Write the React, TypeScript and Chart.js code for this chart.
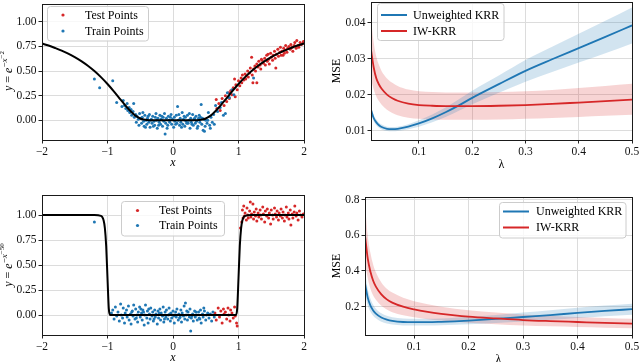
import React, { useEffect, useRef } from 'react';
import { Chart, registerables } from 'chart.js';

Chart.register(...registerables);

const FONT = "'Liberation Serif', 'Times New Roman', serif";
const BLUE = '#1f77b4';
const RED = '#d62728';
const BLUE_BAND = 'rgba(31,119,180,0.2)';
const RED_BAND = 'rgba(214,39,40,0.2)';

// ---------- tick labels ----------
const xTicksScatter = [-2, -1, 0, 1, 2];
const yTicksScatter = [0, 0.25, 0.5, 0.75, 1];
const lambdaTicks = [0.1, 0.2, 0.3, 0.4, 0.5];
const mseTicksTop = [0.01, 0.02, 0.03, 0.04];
const mseTicksBottom = [0.2, 0.4, 0.6, 0.8];

// ---------- top-left: y = exp(-x^-2) ----------
const curveTopX = [-2, -1.9, -1.8, -1.7, -1.6, -1.5, -1.4, -1.3, -1.2, -1.1, -1.0, -0.9, -0.8, -0.75, -0.7, -0.65, -0.6, -0.55, -0.5, -0.45, -0.4, -0.35, -0.3, -0.2, -0.1, 0, 0.1, 0.2, 0.3, 0.35, 0.4, 0.45, 0.5, 0.55, 0.6, 0.65, 0.7, 0.75, 0.8, 0.9, 1.0, 1.1, 1.2, 1.3, 1.4, 1.5, 1.6, 1.7, 1.8, 1.9, 2];
const curveTopY = [0.7788, 0.7583, 0.7339, 0.7075, 0.6767, 0.6412, 0.6004, 0.5534, 0.4994, 0.4376, 0.3679, 0.291, 0.2096, 0.169, 0.1299, 0.0938, 0.0622, 0.0367, 0.0183, 0.0072, 0.0019, 0.0003, 0.0, 0, 0, 0, 0, 0, 0.0, 0.0003, 0.0019, 0.0072, 0.0183, 0.0367, 0.0622, 0.0938, 0.1299, 0.169, 0.2096, 0.291, 0.3679, 0.4376, 0.4994, 0.5534, 0.6004, 0.6412, 0.6767, 0.7075, 0.7339, 0.7583, 0.7788];

const testTop: [number, number][] = [
  [0.66, 0.21], [0.67, 0.12], [0.7, 0.17], [0.72, 0.1], [0.75, 0.22], [0.78, 0.15], [0.8, 0.25], [0.82, 0.19], [0.85, 0.28], [0.86, 0.22],
  [0.88, 0.3], [0.9, 0.26], [0.92, 0.33], [0.94, 0.42], [0.95, 0.24], [0.96, 0.36], [0.98, 0.31], [1.0, 0.4], [1.02, 0.35], [1.04, 0.43],
  [1.05, 0.38], [1.06, 0.46], [1.08, 0.41], [1.1, 0.47], [1.11, 0.42], [1.12, 0.45], [1.14, 0.5], [1.15, 0.44], [1.17, 0.48], [1.18, 0.53],
  [1.2, 0.64], [1.21, 0.46], [1.22, 0.38], [1.23, 0.52], [1.25, 0.55], [1.26, 0.5], [1.28, 0.57], [1.3, 0.54], [1.31, 0.6], [1.33, 0.56],
  [1.34, 0.52], [1.36, 0.61], [1.38, 0.58], [1.4, 0.63], [1.41, 0.56], [1.43, 0.66], [1.44, 0.6], [1.46, 0.62], [1.47, 0.57], [1.49, 0.68],
  [1.5, 0.64], [1.52, 0.61], [1.53, 0.66], [1.55, 0.7], [1.56, 0.63], [1.58, 0.67], [1.6, 0.72], [1.61, 0.65], [1.63, 0.69], [1.64, 0.74],
  [1.66, 0.7], [1.68, 0.66], [1.69, 0.73], [1.71, 0.71], [1.72, 0.76], [1.74, 0.69], [1.75, 0.73], [1.77, 0.75], [1.79, 0.72], [1.8, 0.77],
  [1.82, 0.74], [1.83, 0.7], [1.85, 0.76], [1.86, 0.79], [1.88, 0.73], [1.89, 0.81], [1.91, 0.76], [1.92, 0.74], [1.94, 0.79], [1.96, 0.77],
  [1.98, 0.78], [1.99, 0.8], [1.28, 0.38], [1.57, 0.53], [1.35, 0.62], [1.45, 0.67], [1.65, 0.66], [1.7, 0.68]
];

const trainTop: [number, number][] = [
  [-1.2, 0.42], [-1.12, 0.33], [-0.92, 0.4], [-0.86, 0.18], [-0.78, 0.14], [-0.76, 0.2], [-0.74, 0.15], [-0.72, 0.12], [-0.7, 0.17], [-0.69, 0.1],
  [-0.67, 0.13], [-0.66, 0.08], [-0.64, 0.11], [-0.63, 0.05], [-0.61, 0.09], [-0.6, 0.17], [-0.59, 0.03], [-0.57, 0.06], [-0.56, -0.02], [-0.55, 0.04],
  [-0.53, 0.01], [-0.52, -0.05], [-0.51, 0.07], [-0.49, 0.02], [-0.48, -0.03], [-0.47, 0.03], [-0.45, -0.01], [-0.44, -0.06], [-0.43, 0.05], [-0.41, 0.0],
  [-0.4, -0.04], [-0.39, 0.02], [-0.37, -0.02], [-0.36, 0.06], [-0.35, -0.07], [-0.33, 0.01], [-0.32, -0.03], [-0.31, 0.04], [-0.29, -0.01], [-0.28, -0.05],
  [-0.27, 0.03], [-0.25, 0.0], [-0.24, -0.08], [-0.23, 0.02], [-0.21, -0.02], [-0.2, 0.05], [-0.19, -0.04], [-0.18, 0.01], [-0.16, -0.06], [-0.15, 0.03],
  [-0.14, -0.01], [-0.13, 0.07], [-0.12, -0.14], [-0.11, -0.03], [-0.1, 0.02], [-0.08, -0.05], [-0.07, 0.04], [-0.06, 0.0], [-0.05, -0.02], [-0.03, 0.06],
  [-0.02, -0.04], [-0.01, 0.01], [0.01, -0.07], [0.02, 0.03], [0.03, -0.01], [0.05, 0.05], [0.06, -0.03], [0.07, 0.14], [0.08, 0.0], [0.1, -0.05],
  [0.11, 0.02], [0.12, -0.02], [0.14, 0.08], [0.15, -0.04], [0.16, 0.01], [0.18, -0.06], [0.19, 0.03], [0.2, -0.01], [0.22, 0.05], [0.23, -0.03],
  [0.24, 0.0], [0.26, -0.08], [0.27, 0.02], [0.28, -0.02], [0.3, 0.06], [0.31, -0.05], [0.32, 0.01], [0.34, -0.03], [0.35, 0.04], [0.36, -0.01],
  [0.38, -0.06], [0.39, 0.02], [0.41, -0.02], [0.42, 0.03], [0.43, 0.16], [0.44, -0.04], [0.46, -0.1], [0.47, 0.01], [0.48, -0.11], [0.5, 0.0],
  [0.52, -0.03], [0.54, 0.08], [0.56, -0.05], [0.58, 0.03], [0.6, -0.02], [0.62, 0.06], [0.63, -0.04], [0.65, 0.15], [0.68, 0.09], [0.72, 0.13],
  [0.74, 0.18], [0.77, 0.05], [0.8, 0.07], [0.83, 0.28], [0.86, 0.23], [0.9, 0.31], [0.93, 0.26], [1.23, 0.43],
  [-0.46, 0.08], [-0.42, -0.07], [-0.38, 0.04], [-0.34, 0.0], [-0.3, -0.06], [-0.26, 0.07], [-0.22, -0.05], [-0.17, 0.04], [-0.09, -0.08], [-0.04, 0.03],
  [0.04, -0.04], [0.09, 0.06], [0.13, -0.07], [0.17, 0.04], [0.21, -0.03], [0.25, 0.07], [0.29, -0.04], [0.33, 0.02], [0.37, -0.08], [0.4, 0.05],
  [0.45, 0.02], [0.49, -0.06], [0.53, 0.0], [0.57, -0.08]
];

// ---------- bottom-left: y = exp(-x^-50) ----------
const curveBottomX = [-2, -1.5, -1.2, -1.1, -1.08, -1.06, -1.04, -1.02, -1.0, -0.98, -0.96, -0.94, -0.9, 0, 0.9, 0.94, 0.96, 0.98, 1.0, 1.02, 1.04, 1.06, 1.08, 1.1, 1.2, 1.5, 2];
const curveBottomY = [1, 1, 0.9999, 0.9915, 0.979, 0.947, 0.869, 0.69, 0.368, 0.064, 0.0005, 0, 0, 0, 0, 0, 0.0005, 0.064, 0.368, 0.69, 0.869, 0.947, 0.979, 0.9915, 0.9999, 1, 1];

const trainBottom: [number, number][] = [
  [-1.2, 0.93], [-0.94, 0.02], [-0.92, 0.05], [-0.9, -0.04], [-0.88, 0.08], [-0.86, -0.01], [-0.84, 0.03], [-0.82, -0.06], [-0.8, 0.11], [-0.79, 0.0],
  [-0.77, -0.03], [-0.76, 0.07], [-0.74, -0.08], [-0.73, 0.02], [-0.71, 0.05], [-0.7, -0.02], [-0.68, 0.09], [-0.67, -0.05], [-0.65, 0.01], [-0.64, -0.09],
  [-0.62, 0.04], [-0.61, -0.01], [-0.6, 0.1], [-0.58, -0.04], [-0.57, 0.06], [-0.55, 0.0], [-0.54, -0.07], [-0.53, 0.03], [-0.51, 0.08], [-0.5, -0.02],
  [-0.48, 0.02], [-0.47, -0.05], [-0.46, 0.05], [-0.44, -0.1], [-0.43, 0.0], [-0.42, 0.1], [-0.4, -0.03], [-0.39, 0.04], [-0.38, -0.08], [-0.36, 0.01],
  [-0.35, -0.04], [-0.34, 0.07], [-0.32, -0.01], [-0.31, 0.03], [-0.3, -0.06], [-0.28, 0.05], [-0.27, -0.02], [-0.26, 0.01], [-0.24, -0.09], [-0.23, 0.04],
  [-0.22, -0.03], [-0.2, 0.06], [-0.19, -0.05], [-0.18, 0.02], [-0.16, -0.01], [-0.15, 0.08], [-0.14, -0.07], [-0.12, 0.03], [-0.11, -0.02], [-0.1, 0.05],
  [-0.08, -0.04], [-0.07, 0.0], [-0.06, 0.07], [-0.04, -0.06], [-0.03, 0.02], [-0.02, -0.03], [0.0, 0.04], [0.01, -0.01], [0.02, -0.08], [0.04, 0.03],
  [0.05, -0.02], [0.06, 0.06], [0.08, -0.05], [0.09, 0.01], [0.1, -0.03], [0.12, 0.05], [0.13, -0.07], [0.14, 0.02], [0.16, -0.01], [0.17, 0.09],
  [0.18, -0.04], [0.19, 0.12], [0.2, 0.0], [0.22, -0.05], [0.23, 0.03], [0.25, -0.02], [0.26, 0.06], [0.27, -0.16], [0.28, -0.03], [0.3, 0.01],
  [0.31, -0.06], [0.33, 0.04], [0.34, -0.02], [0.36, 0.0], [0.37, -0.05], [0.39, 0.03], [0.4, -0.03], [0.42, 0.05], [0.43, -0.08], [0.45, 0.01],
  [0.46, -0.02], [0.48, 0.04], [0.5, -0.05], [0.51, 0.0], [0.53, 0.02], [0.55, -0.03], [0.57, 0.01], [0.59, -0.06], [0.61, 0.03], [0.63, -0.02],
  [-0.45, 0.03], [-0.37, 0.06], [-0.29, -0.04], [-0.21, 0.02], [-0.13, -0.04], [-0.05, 0.01], [0.03, 0.0], [0.11, -0.02], [0.21, 0.04], [0.29, -0.01],
  [0.35, 0.03], [0.41, -0.04], [0.47, 0.07], [-0.63, 0.03], [-0.56, -0.03], [-0.49, 0.06]
];

const testBottom: [number, number][] = [
  [0.64, 0.02], [0.66, -0.05], [0.69, 0.07], [0.71, -0.02], [0.73, 0.04], [0.75, -0.08], [0.77, 0.06], [0.78, 0.01], [0.8, 0.03], [0.82, -0.04],
  [0.84, 0.07], [0.85, 0.0], [0.87, -0.06], [0.88, 0.05], [0.9, 0.02], [0.92, -0.03], [0.94, 0.08], [0.95, -0.01], [0.97, -0.08], [0.98, -0.11],
  [1.03, 0.87], [1.05, 0.93], [1.06, 1.05], [1.07, 0.97], [1.08, 1.09], [1.09, 0.99], [1.1, 1.02], [1.12, 0.95], [1.13, 1.07], [1.14, 1.0],
  [1.15, 0.97], [1.17, 1.04], [1.18, 1.13], [1.19, 0.98], [1.2, 1.01], [1.22, 1.11], [1.23, 0.96], [1.24, 1.03], [1.26, 0.99], [1.27, 1.06],
  [1.28, 0.94], [1.3, 1.02], [1.31, 0.98], [1.33, 1.05], [1.34, 1.0], [1.35, 0.96], [1.37, 1.08], [1.38, 1.01], [1.4, 0.93], [1.41, 1.04],
  [1.43, 0.99], [1.44, 1.06], [1.46, 0.97], [1.47, 1.02], [1.49, 0.91], [1.5, 1.05], [1.52, 1.0], [1.53, 0.96], [1.55, 1.07], [1.56, 1.01],
  [1.58, 0.98], [1.59, 1.04], [1.61, 0.95], [1.62, 1.02], [1.64, 0.99], [1.65, 1.06], [1.67, 0.97], [1.68, 1.03], [1.7, 0.94], [1.71, 1.0],
  [1.73, 1.08], [1.74, 0.98], [1.76, 1.02], [1.77, 0.96], [1.79, 1.05], [1.8, 0.9], [1.82, 1.01], [1.83, 0.97], [1.85, 1.03], [1.86, 1.09],
  [1.88, 0.99], [1.89, 1.02], [1.91, 0.95], [1.93, 1.04], [1.95, 1.0], [1.97, 0.98], [1.99, 1.01]
];

// ---------- MSE vs lambda ----------
const lambdas = [0.01, 0.015, 0.02, 0.025, 0.03, 0.04, 0.05, 0.06, 0.08, 0.1, 0.125, 0.15, 0.175, 0.2, 0.25, 0.3, 0.35, 0.4, 0.45, 0.5];

const topUnweighted = [0.0158, 0.0135, 0.0123, 0.0115, 0.011, 0.0105, 0.0104, 0.0105, 0.0111, 0.012, 0.0134, 0.0151, 0.017, 0.0191, 0.0229, 0.0266, 0.0298, 0.0329, 0.036, 0.0392];
const topUnweightedLow = [0.0148, 0.0126, 0.0115, 0.0108, 0.0103, 0.0099, 0.0098, 0.0099, 0.0104, 0.0111, 0.0123, 0.0138, 0.0155, 0.0173, 0.0205, 0.0236, 0.0263, 0.0289, 0.0315, 0.0342];
const topUnweightedHigh = [0.0168, 0.0144, 0.0131, 0.0122, 0.0117, 0.0111, 0.011, 0.0111, 0.0118, 0.0129, 0.0145, 0.0164, 0.0187, 0.0211, 0.0253, 0.0296, 0.0333, 0.0369, 0.0405, 0.0442];
const topIW = [0.0324, 0.0276, 0.0245, 0.0228, 0.0216, 0.02, 0.019, 0.0183, 0.0175, 0.0171, 0.0169, 0.0168, 0.0168, 0.0168, 0.0169, 0.0171, 0.0174, 0.0178, 0.0182, 0.0186];
const topIWLow = [0.0245, 0.0215, 0.0195, 0.0182, 0.0172, 0.0158, 0.0149, 0.0143, 0.0136, 0.0133, 0.0131, 0.013, 0.013, 0.013, 0.0131, 0.0133, 0.0135, 0.0138, 0.0141, 0.0144];
const topIWHigh = [0.041, 0.0345, 0.0305, 0.0282, 0.0265, 0.0245, 0.0233, 0.0224, 0.0214, 0.0209, 0.0207, 0.0206, 0.0206, 0.0206, 0.0207, 0.0209, 0.0213, 0.0218, 0.0224, 0.023];

const bottomUnweighted = [0.33, 0.25, 0.205, 0.178, 0.16, 0.138, 0.126, 0.119, 0.113, 0.112, 0.112, 0.114, 0.117, 0.121, 0.13, 0.141, 0.152, 0.164, 0.175, 0.185];
const bottomUnweightedLow = [0.27, 0.205, 0.17, 0.148, 0.134, 0.115, 0.105, 0.099, 0.094, 0.093, 0.093, 0.095, 0.097, 0.1, 0.107, 0.116, 0.125, 0.135, 0.145, 0.154];
const bottomUnweightedHigh = [0.395, 0.298, 0.243, 0.21, 0.188, 0.162, 0.148, 0.14, 0.133, 0.131, 0.131, 0.133, 0.137, 0.142, 0.153, 0.166, 0.179, 0.193, 0.205, 0.216];
const bottomIW = [0.6, 0.47, 0.395, 0.345, 0.312, 0.268, 0.24, 0.222, 0.199, 0.184, 0.17, 0.159, 0.15, 0.143, 0.133, 0.124, 0.118, 0.113, 0.108, 0.104];
const bottomIWLow = [0.45, 0.36, 0.3, 0.262, 0.238, 0.204, 0.183, 0.168, 0.151, 0.14, 0.129, 0.121, 0.114, 0.109, 0.101, 0.094, 0.089, 0.085, 0.081, 0.078];
const bottomIWHigh = [0.78, 0.6, 0.5, 0.435, 0.392, 0.335, 0.3, 0.278, 0.249, 0.23, 0.213, 0.199, 0.188, 0.179, 0.166, 0.155, 0.148, 0.141, 0.136, 0.131];

// ---------- helpers ----------
const W = 640;
const H = 362;
const Y_AXIS_W = 40;
const X_AXIS_H = 30;

const zip = (xs: number[], ys: number[]) => xs.map((x, i) => ({ x, y: ys[i] }));
const pts = (p: [number, number][]) => p.map(([x, y]) => ({ x, y }));

const fmtInt = (v: number) => (v < 0 ? '\u2212' + Math.abs(v) : String(v));
const fmt2 = (v: number) => v.toFixed(2);
const fmt1 = (v: number) => v.toFixed(1);

function axis(min: number, max: number, ticks: number[], fmt: (v: number) => string, isX: boolean) {
  return {
    type: 'linear',
    min,
    max,
    afterBuildTicks: (s: any) => {
      s.ticks = ticks.map((v) => ({ value: v }));
    },
    afterFit: (s: any) => {
      if (isX) s.height = X_AXIS_H;
      else s.width = Y_AXIS_W;
      s.paddingLeft = 0;
      s.paddingRight = 0;
      s.paddingTop = 0;
      s.paddingBottom = 0;
    },
    ticks: {
      callback: (v: any) => fmt(Number(v)),
      font: { family: FONT, size: 11.5 },
      color: '#111',
      padding: isX ? 1.5 : 2,
      maxRotation: 0,
      minRotation: 0,
      autoSkip: false,
    },
    grid: {
      color: '#dcdcdc',
      lineWidth: 1,
      tickColor: '#222',
      tickLength: 3.5,
      drawTicks: true,
    },
    border: { display: false },
  };
}

type Seg = { t: string; size: number; italic?: boolean; dy?: number };

function drawRich(ctx: CanvasRenderingContext2D, segs: Seg[], x: number, y: number, rotate: boolean) {
  const font = (s: Seg) => `${s.italic ? 'italic ' : ''}${s.size}px ${FONT}`;
  let total = 0;
  const widths = segs.map((s) => {
    ctx.font = font(s);
    const w = ctx.measureText(s.t).width;
    total += w;
    return w;
  });
  ctx.save();
  ctx.translate(x, y);
  if (rotate) ctx.rotate(-Math.PI / 2);
  ctx.textAlign = 'left';
  ctx.textBaseline = 'alphabetic';
  ctx.fillStyle = '#000';
  let cx = -total / 2;
  segs.forEach((s, i) => {
    ctx.font = font(s);
    ctx.fillText(s.t, cx, s.dy || 0);
    cx += widths[i];
  });
  ctx.restore();
}

const decorPlugin = {
  id: 'decor',
  afterDraw(chart: any, _args: any, opts: any) {
    const ctx: CanvasRenderingContext2D = chart.ctx;
    const a = chart.chartArea;
    ctx.save();
    // frame
    ctx.strokeStyle = '#1a1a1a';
    ctx.lineWidth = 1;
    ctx.strokeRect(a.left + 0.5, a.top + 0.5, a.right - a.left, a.bottom - a.top);
    // titles
    if (opts.xTitle) drawRich(ctx, opts.xTitle.segs, opts.xTitle.x, opts.xTitle.y, false);
    if (opts.yTitle) drawRich(ctx, opts.yTitle.segs, opts.yTitle.x, opts.yTitle.y, true);
    // legend
    const lg = opts.legend;
    if (lg) {
      const [bx, by, bw, bh] = lg.box;
      ctx.beginPath();
      if ((ctx as any).roundRect) (ctx as any).roundRect(bx, by, bw, bh, 3);
      else ctx.rect(bx, by, bw, bh);
      ctx.fillStyle = 'rgba(255,255,255,0.8)';
      ctx.fill();
      ctx.strokeStyle = '#cccccc';
      ctx.lineWidth = 1;
      ctx.stroke();
      lg.items.forEach((it: any, i: number) => {
        const y = lg.rows[i];
        if (it.kind === 'dot') {
          ctx.beginPath();
          ctx.arc(lg.markerX, y, 1.6, 0, Math.PI * 2);
          ctx.fillStyle = it.color;
          ctx.fill();
        } else {
          ctx.beginPath();
          ctx.moveTo(lg.lineX[0], y);
          ctx.lineTo(lg.lineX[1], y);
          ctx.strokeStyle = it.color;
          ctx.lineWidth = 2;
          ctx.stroke();
        }
        ctx.fillStyle = '#000';
        ctx.font = `12px ${FONT}`;
        ctx.textAlign = 'left';
        ctx.textBaseline = 'middle';
        ctx.fillText(it.label, lg.textX, y + 0.5);
      });
    }
    ctx.restore();
  },
};

function padFor(area: { l: number; t: number; r: number; b: number }) {
  return { left: area.l - Y_AXIS_W, top: area.t, right: W - area.r, bottom: H - area.b - X_AXIS_H };
}

function baseOptions(area: any, xScale: any, yScale: any, decor: any) {
  return {
    responsive: false,
    animation: false,
    devicePixelRatio: 1,
    layout: { padding: padFor(area) },
    scales: { x: xScale, y: yScale },
    plugins: { legend: { display: false }, tooltip: { enabled: false }, decor },
    events: [],
  };
}

function expLabel(exp: string): Seg[] {
  return [
    { t: 'y', size: 12, italic: true },
    { t: ' = ', size: 12 },
    { t: 'e', size: 12, italic: true },
    { t: '\u2212', size: 9, dy: -5 },
    { t: 'x', size: 9, italic: true, dy: -5 },
    { t: '\u2212' + exp, size: 7, dy: -8.5 },
  ];
}

function scatterConfig(area: any, curveX: number[], curveY: number[], train: any, test: any, yMin: number, yMax: number, exp: string, legend: any) {
  return {
    type: 'line',
    data: {
      datasets: [
        {
          data: zip(curveX, curveY),
          borderColor: '#000',
          borderWidth: 2,
          pointRadius: 0,
          cubicInterpolationMode: 'monotone',
          fill: false,
        },
        {
          data: pts(train),
          showLine: false,
          pointRadius: 1.5,
          pointBorderWidth: 0,
          pointBackgroundColor: BLUE,
          borderColor: BLUE,
        },
        {
          data: pts(test),
          showLine: false,
          pointRadius: 1.5,
          pointBorderWidth: 0,
          pointBackgroundColor: RED,
          borderColor: RED,
        },
      ],
    },
    options: baseOptions(
      area,
      axis(-2, 2, xTicksScatter, fmtInt, true),
      axis(yMin, yMax, yTicksScatter, fmt2, false),
      {
        xTitle: { segs: [{ t: 'x', size: 12, italic: true }], x: (area.l + area.r) / 2, y: area.b + 26 },
        yTitle: { segs: expLabel(exp), x: 12, y: (area.t + area.b) / 2 },
        legend,
      }
    ),
    plugins: [decorPlugin],
  };
}

function mseConfig(area: any, un: number[], unLo: number[], unHi: number[], iw: number[], iwLo: number[], iwHi: number[], yMin: number, yMax: number, yTicks: number[], yFmt: (v: number) => string, legend: any) {
  const line = (d: number[], c: string) => ({
    data: zip(lambdas, d),
    borderColor: c,
    borderWidth: 1.8,
    pointRadius: 0,
    cubicInterpolationMode: 'monotone',
    fill: false,
  });
  const band = (d: number[], c: string, fill: any) => ({
    data: zip(lambdas, d),
    borderColor: 'rgba(0,0,0,0)',
    borderWidth: 0,
    backgroundColor: c,
    pointRadius: 0,
    cubicInterpolationMode: 'monotone',
    fill,
  });
  return {
    type: 'line',
    data: {
      datasets: [
        line(iw, RED),
        line(un, BLUE),
        band(unHi, BLUE_BAND, '+1'),
        band(unLo, BLUE_BAND, false),
        band(iwHi, RED_BAND, '+1'),
        band(iwLo, RED_BAND, false),
      ],
    },
    options: baseOptions(
      area,
      axis(0.01, 0.5, lambdaTicks, fmt1, true),
      axis(yMin, yMax, yTicks, yFmt, false),
      {
        xTitle: { segs: [{ t: '\u03bb', size: 12 }], x: (area.l + area.r) / 2, y: area.b + 28 },
        yTitle: { segs: [{ t: 'MSE', size: 12 }], x: 340, y: (area.t + area.b) / 2 },
        legend,
      }
    ),
    plugins: [decorPlugin],
  };
}

const AREA_TL = { l: 42, t: 2, r: 304, b: 140 };
const AREA_TR = { l: 371, t: 2, r: 632, b: 140 };
const AREA_BL = { l: 42, t: 195, r: 304, b: 335 };
const AREA_BR = { l: 365, t: 197, r: 632, b: 335 };

const scatterLegendItems = [
  { label: 'Test Points', color: RED, kind: 'dot' },
  { label: 'Train Points', color: BLUE, kind: 'dot' },
];
const mseLegendItems = [
  { label: 'Unweighted KRR', color: BLUE, kind: 'line' },
  { label: 'IW-KRR', color: RED, kind: 'line' },
];

function buildConfigs() {
  return [
    scatterConfig(AREA_TL, curveTopX, curveTopY, trainTop, testTop, -0.2, 1.18, '2', {
      box: [47.5, 6.5, 101, 34.5], markerX: 63, textX: 85, rows: [15, 31], items: scatterLegendItems,
    }),
    mseConfig(AREA_TR, topUnweighted, topUnweightedLow, topUnweightedHigh, topIW, topIWLow, topIWHigh, 0.0074, 0.0457, mseTicksTop, fmt2, {
      box: [377.5, 3.5, 126.5, 37], lineX: [381, 407], textX: 413, rows: [15, 31], items: mseLegendItems,
    }),
    scatterConfig(AREA_BL, curveBottomX, curveBottomY, trainBottom, testBottom, -0.2, 1.2, '50', {
      box: [121.5, 201.5, 103, 34.5], markerX: 137.5, textX: 159, rows: [210.5, 225.5], items: scatterLegendItems,
    }),
    mseConfig(AREA_BR, bottomUnweighted, bottomUnweightedLow, bottomUnweightedHigh, bottomIW, bottomIWLow, bottomIWHigh, 0.04, 0.815, mseTicksBottom, fmt1, {
      box: [499.5, 202.5, 126.5, 35.5], lineX: [503, 529], textX: 536, rows: [211.5, 227.5], items: mseLegendItems,
    }),
  ];
}

export default function App() {
  const refs = useRef<(HTMLCanvasElement | null)[]>([]);
  useEffect(() => {
    const charts = buildConfigs().map((cfg, i) => new Chart(refs.current[i] as HTMLCanvasElement, cfg as any));
    return () => charts.forEach((c) => c.destroy());
  }, []);
  return (
    <div style={{ position: 'absolute', left: 0, top: 0, width: W, height: H, background: '#fff' }}>
      {[0, 1, 2, 3].map((i) => (
        <canvas
          key={i}
          ref={(el) => {
            refs.current[i] = el;
          }}
          width={W}
          height={H}
          style={{ position: 'absolute', left: 0, top: 0, width: W, height: H }}
        />
      ))}
    </div>
  );
}
